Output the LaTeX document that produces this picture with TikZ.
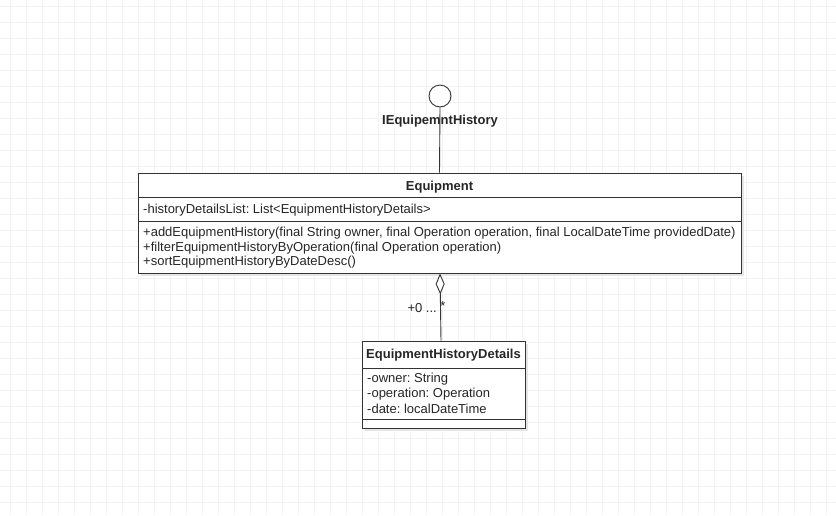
\documentclass[tikz,border=0pt]{standalone}
\usepackage{fontspec}
\setmainfont{Liberation Sans}
\usetikzlibrary{arrows.meta,shapes.geometric}
\frenchspacing
\begin{document}
\begin{tikzpicture}[x=1pt,y=-1pt,
  every node/.style={font=\fontsize{13}{15}\selectfont, text=black!85, inner sep=0pt},
  umlbox/.style={draw=black!80, line width=0.9pt, fill=white, rectangle},
  shadowbox/.style={fill=black!10, draw=none, rectangle},
  sep/.style={draw=black!80, line width=0.9pt},
  conn/.style={draw=black!80, line width=0.9pt},
  agg/.style={conn, -{Diamond[open, length=21pt, width=9pt, fill=white]}},
  title/.style={font=\fontsize{13}{15}\selectfont\bfseries},
  member/.style={anchor=west}
]
\useasboundingbox (0,0) rectangle (836,515);
\fill[white] (0,0) rectangle (836,515);
% grid
\foreach \gx in {10,26,...,834} \draw[black!5, line width=0.6pt] (\gx,0) -- (\gx,515);
\foreach \gy in {6,22,...,514} \draw[black!5, line width=0.6pt] (0,\gy) -- (836,\gy);

% interface
\node[circle, draw=black!80, line width=0.9pt, fill=white, minimum size=22pt] (iface) at (440,96) {};
\node[title] (ifacelbl) at (440,121.5) {IEquipemntHistory};

% Equipment class
\node[shadowbox, minimum width=603pt, minimum height=100pt] (eqsh) at (442.5,226) {};
\node[umlbox, minimum width=603pt, minimum height=100pt] (eq) at (439.5,223) {};
\draw[sep] (138,197) -- (741,197);
\draw[sep] (138,221) -- (741,221);
\node[title] (eqt) at (439.5,187) {Equipment};
\node[member] (eqa1) at (143,210.5) {-historyDetailsList: List<EquipmentHistoryDetails>};
\node[member] (eqm1) at (143,233.5) {+addEquipmentHistory(final String owner, final Operation operation, final LocalDateTime providedDate)};
\node[member] (eqm2) at (143,248) {+filterEquipmentHistoryByOperation(final Operation operation)};
\node[member] (eqm3) at (143,262.5) {+sortEquipmentHistoryByDateDesc()};

% EquipmentHistoryDetails class
\node[shadowbox, minimum width=163pt, minimum height=87pt] (ehdsh) at (446.5,387.5) {};
\node[umlbox, minimum width=163pt, minimum height=87pt] (ehd) at (443.5,384.5) {};
\draw[sep] (362,368) -- (525,368);
\draw[sep] (362,419) -- (525,419);
\node[title] (ehdt) at (443.5,355.5) {EquipmentHistoryDetails};
\node[member] (ehda1) at (367,379) {-owner: String};
\node[member] (ehda2) at (367,394) {-operation: Operation};
\node[member] (ehda3) at (367,409) {-date: localDateTime};

% connectors
\draw[conn] (iface.south) -- (eq.north);
\draw[agg] ([xshift=-2.5pt]ehd.north) -- ([xshift=0.5pt]eq.south);
\node[anchor=east] (mult) at (437,308) {+0 ...};
\node (star) at (443,306.5) {*};
\end{tikzpicture}
\end{document}
